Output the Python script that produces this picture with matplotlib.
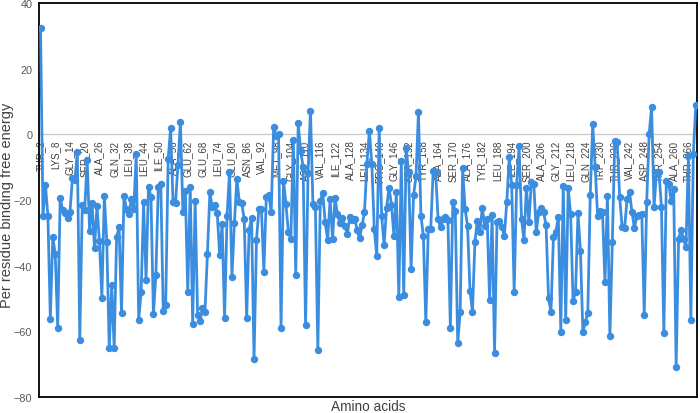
import matplotlib
matplotlib.use("Agg")
import matplotlib.pyplot as plt

# Per-residue binding free energy, residues 2..269
energy_2_41 = [32.5, -24.8, -15.4, -24.8, -56.1, -31.3, -36.5, -59.1, -19.4, -23.0,
               -24.0, -25.6, -23.6, -13.3, -14.0, -5.5, -62.5, -21.4, -23.0, -7.7,
               -29.5, -20.9, -34.7, -21.8, -32.5, -49.7, -18.7, -32.7, -65.0, -46.0,
               -65.0, -31.4, -28.3, -54.4, -18.7, -22.7, -24.3, -19.7, -22.7, -6.0]
energy_42_81 = [-56.5, -47.9, -20.7, -44.3, -15.9, -19.2, -54.7, -42.9, -15.9, -15.2,
                -53.7, -52.0, -7.5, 1.8, -20.7, -20.9, -9.3, 3.8, -23.6, -17.2,
                -47.9, -16.0, -57.8, -20.2, -55.0, -56.8, -53.0, -54.2, -36.5, -17.7,
                -22.2, -21.5, -24.0, -36.8, -27.3, -56.0, -25.0, -11.4, -43.3, -27.0]
energy_82_121 = [-13.6, -20.5, -21.0, -25.8, -56.0, -29.0, -25.6, -68.5, -32.1, -22.7,
                 -22.7, -41.8, -19.2, -18.4, -23.6, 2.3, -0.4, 0.0, -59.0, -14.1,
                 -21.2, -29.7, -31.9, -1.6, -42.9, 3.3, -5.0, -10.0, -58.2, -11.7,
                 7.2, -21.2, -22.2, -65.7, -20.3, -17.9, -26.8, -32.1, -19.7, -32.0]
energy_122_161 = [-19.4, -24.3, -27.0, -25.6, -27.8, -30.4, -25.3, -26.1, -25.8, -29.0,
                  -31.7, -27.7, -23.8, -9.0, 1.1, -9.0, -28.9, -37.0, 1.8, -24.8,
                  -33.7, -22.5, -16.2, -21.4, -30.9, -17.7, -49.6, -8.0, -49.0, -4.3,
                  -11.6, -41.0, -18.5, -12.8, 6.9, -24.8, -30.9, -57.3, -28.8, -28.8]
energy_162_201 = [-11.1, -11.6, -25.8, -28.3, -25.8, -25.3, -26.1, -59.0, -20.5, -23.4,
                  -63.7, -54.0, -10.4, -22.8, -27.8, -47.6, -54.0, -32.9, -26.3, -29.8,
                  -22.5, -27.8, -25.8, -50.5, -24.6, -66.6, -26.8, -26.3, -28.1, -30.9,
                  -20.5, -7.0, -15.4, -48.1, -15.4, -3.5, -25.8, -32.2, -16.2, -26.8]
energy_202_241 = [-14.6, -15.1, -29.8, -23.8, -22.3, -23.8, -27.6, -49.9, -54.0, -31.4,
                  -29.6, -25.3, -60.1, -15.6, -56.5, -16.4, -24.3, -50.7, -48.1, -24.0,
                  -35.4, -60.1, -57.1, -54.5, -18.5, 3.1, -9.8, -24.8, -23.3, -23.8,
                  -45.1, -18.7, -61.5, -32.7, -1.9, -2.4, -19.2, -28.3, -28.6, -19.7]
energy_242_269 = [-17.7, -23.6, -28.6, -24.8, -24.6, -24.3, -55.0, -20.7, 0.1, 8.4,
                  -22.0, -11.6, -11.6, -22.0, -60.6, -14.1, -15.1, -20.4, -16.7, -70.8,
                  -31.9, -29.1, -31.9, -34.4, -6.5, -56.6, -6.0, 8.9]

energy = (energy_2_41 + energy_42_81 + energy_82_121 + energy_122_161
          + energy_162_201 + energy_202_241 + energy_242_269)
first_residue = 2
residues = list(range(first_residue, first_residue + len(energy)))

tick_labels = ["THR_2", "LYS_8", "GLY_14", "SER_20", "ALA_26", "GLN_32", "LEU_38",
               "LEU_44", "ILE_50", "ALA_56", "GLU_62", "GLU_68", "LEU_74", "GLU_80",
               "ASN_86", "VAL_92", "MET_98", "GLY_104", "ASP_110", "VAL_116", "ILE_122",
               "ALA_128", "LEU_134", "PRO_140", "GLY_146", "SER_152", "TYR_158",
               "ALA_164", "SER_170", "ALA_176", "TYR_182", "LEU_188", "ILE_194",
               "SER_200", "ALA_206", "GLY_212", "LEU_218", "GLN_224", "TRP_230",
               "THR_236", "VAL_242", "ASP_248", "THR_254", "ALA_260", "THR_266"]
tick_residues = [int(lab.split("_")[1]) for lab in tick_labels]

plt.rcParams['font.family'] = ['Liberation Sans', 'DejaVu Sans']

W, H = 700, 414
fig = plt.figure(figsize=(W / 100, H / 100), dpi=100)
left, right, top, bottom = 39.3, 697.0, 4.0, 398.0
ax = fig.add_axes([left / W, 1 - bottom / H, (right - left) / W, (bottom - top) / H])

line_color = '#3B8EDF'
ax.axhline(0, color='#C8C8C8', lw=0.9, zorder=1)
ax.plot(residues, energy, color=line_color, lw=2.0, marker='o', ms=4.3,
        mfc=line_color, mec=line_color, zorder=3)

ax.set_xlim(residues[0] - 0.5, residues[-1] + 0.5)
ax.set_ylim(-80, 40)
ax.set_xticks([])
ax.set_yticks(range(-80, 41, 20))
ax.tick_params(axis='y', length=0, labelsize=7.8, labelcolor='#595959', pad=5)
for s in ax.spines.values():
    s.set_color('black')
    s.set_linewidth(1.3)

for res, lab in zip(tick_residues, tick_labels):
    ax.text(res, -1.6, lab, rotation=90, ha='center', va='top',
            fontsize=7, color='#404040', zorder=2)

fig.text(7 / W, 1 - 205 / H, "Per residue binding free energy", rotation=90,
         ha='center', va='center', fontsize=10.5, color='#404040')
fig.text(368 / W, 1 - 407 / H, "Amino acids", ha='center', va='center',
         fontsize=9.8, color='#404040')

fig.savefig("out.png", dpi=100)
